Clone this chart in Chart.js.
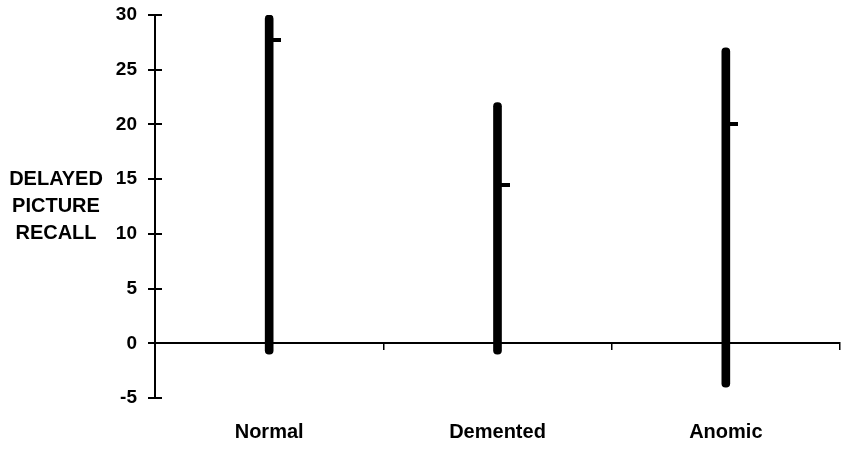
<!DOCTYPE html>
<html>
<head>
<meta charset="utf-8">
<script src="https://cdn.jsdelivr.net/npm/chart.js@4/dist/chart.umd.min.js"></script>
<style>
  html,body{margin:0;padding:0;background:#fff;}
  #wrap{width:843px;height:451px;}
</style>
</head>
<body>
<div id="wrap"><canvas id="c" width="843" height="451"></canvas></div>
<script>
const categories = ['Normal', 'Demented', 'Anomic'];
const minValues = [-1, -1, -4];
const maxValues = [30, 22, 27];
const meanValues = [27.7, 14.5, 20];
const yTitleLines = ['DELAYED', 'PICTURE', 'RECALL'];

const FONT = '"Liberation Sans", Arial, sans-serif';

// mean marker: a short dash to the right of the range bar
function makeMeanMarker() {
  const c = document.createElement('canvas');
  c.width = 24; c.height = 4;
  const g = c.getContext('2d');
  g.fillStyle = '#000';
  g.fillRect(12, 0, 12, 4);
  return c;
}
const meanMarker = makeMeanMarker();

const yTitlePlugin = {
  id: 'yTitle',
  afterDraw(chart) {
    const y = chart.scales.y;
    const ctx = chart.ctx;
    const y0 = y.getPixelForValue(15);
    const y2 = y.getPixelForValue(10);
    const ys = [y0, (y0 + y2) / 2, y2];
    ctx.save();
    ctx.fillStyle = '#000';
    ctx.font = 'bold 20px ' + FONT;
    ctx.textAlign = 'center';
    ctx.textBaseline = 'middle';
    yTitleLines.forEach((t, i) => ctx.fillText(t, 56, ys[i]));
    ctx.restore();
  }
};

const yTickPlugin = {
  id: 'yTicksCross',
  afterDraw(chart) {
    const y = chart.scales.y;
    const ctx = chart.ctx;
    const x = chart.chartArea.left;
    ctx.save();
    ctx.strokeStyle = '#000';
    ctx.lineWidth = 2;
    y.ticks.forEach(t => {
      const py = Math.round(y.getPixelForValue(t.value));
      ctx.beginPath();
      ctx.moveTo(x - 7, py);
      ctx.lineTo(x + 7, py);
      ctx.stroke();
    });
    ctx.restore();
  }
};

new Chart(document.getElementById('c'), {
  type: 'bar',
  data: {
    labels: categories,
    datasets: [
      {
        type: 'bar',
        data: categories.map((c, i) => [minValues[i], maxValues[i]]),
        backgroundColor: '#000',
        borderWidth: 0,
        borderRadius: 4,
        borderSkipped: false,
        barThickness: 8,
        order: 2
      },
      {
        type: 'line',
        data: meanValues,
        showLine: false,
        pointStyle: meanMarker,
        pointRadius: 6,
        order: 1
      }
    ]
  },
  options: {
    responsive: false,
    animation: false,
    devicePixelRatio: 1,
    layout: { autoPadding: false, padding: { left: 0, right: 3, top: 15, bottom: 0 } },
    plugins: {
      legend: { display: false },
      tooltip: { enabled: false },
      title: { display: false }
    },
    scales: {
      x: {
        type: 'category',
        position: 'bottom',
        offset: true,
        grid: { display: false, drawTicks: false },
        border: { display: false },
        ticks: {
          color: '#000',
          padding: 22,
          font: { family: FONT, size: 20, weight: 'bold' }
        },
        afterFit(s) { s.height = 53; s.paddingLeft = 0; s.paddingRight = 0; }
      },
      x2: {
        type: 'category',
        position: { y: 0 },
        offset: true,
        grid: { offset: true, drawOnChartArea: false, drawTicks: true, tickLength: 6, color: '#000', lineWidth: 1.5 },
        border: { display: true, color: '#000', width: 2 },
        ticks: { display: false },
        afterFit(s) { s.paddingLeft = 0; s.paddingRight = 0; }
      },
      y: {
        min: -5,
        max: 30,
        position: 'left',
        grid: { drawOnChartArea: false, drawTicks: false },
        border: { display: true, color: '#000', width: 2 },
        ticks: {
          stepSize: 5,
          color: '#000',
          padding: 18,
          font: { family: FONT, size: 19, weight: 'bold' }
        },
        afterFit(s) { s.width = 155; s.paddingTop = 0; s.paddingBottom = 0; }
      }
    }
  },
  plugins: [yTitlePlugin, yTickPlugin]
});
</script>
</body>
</html>
